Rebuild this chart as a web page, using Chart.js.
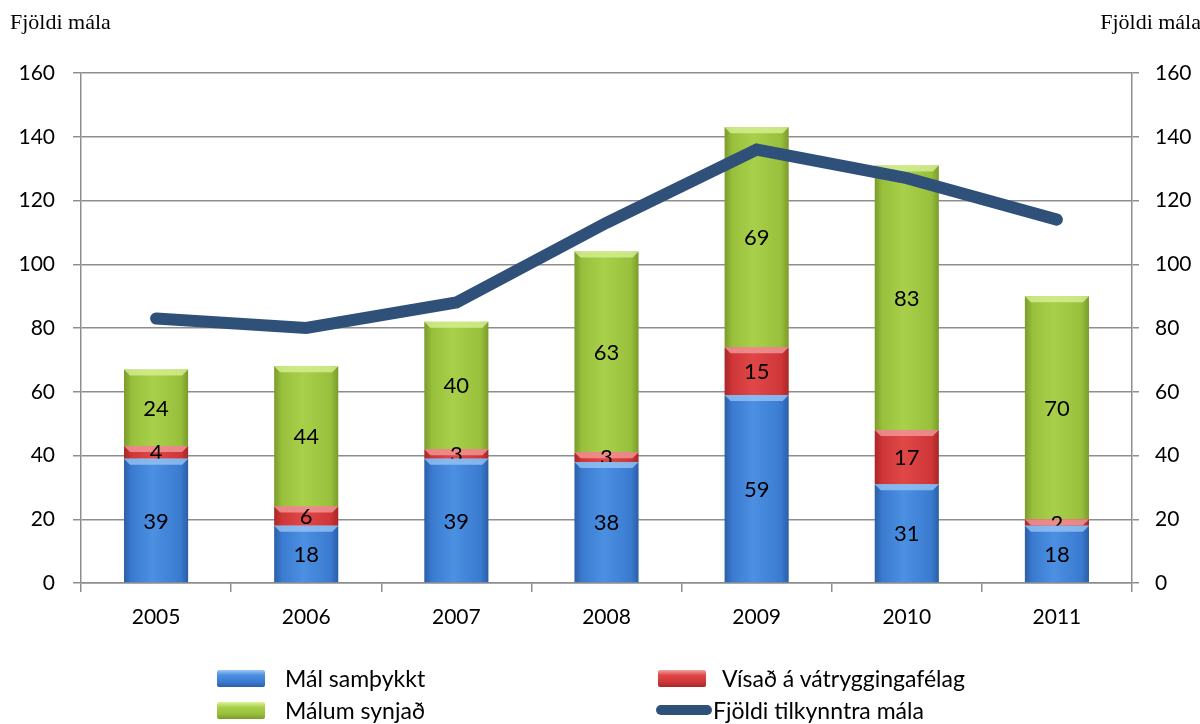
<!DOCTYPE html>
<html lang="is">
<head>
<meta charset="utf-8">
<title>Fjöldi mála 2005–2011</title>
<script src="https://cdn.jsdelivr.net/npm/chart.js@4/dist/chart.umd.min.js"></script>
<style>
  html, body { margin: 0; padding: 0; background: #fff; }
  #wrap { position: relative; width: 1200px; height: 724px; }
  .axis-title { position: absolute; top: 9px; font: 22px "Liberation Serif", serif; color: #000; }
  .legend-item { position: absolute; display: flex; align-items: center; font: 23px Lato, sans-serif; color: #000; }
  .swatch { width: 48px; height: 17px; border-radius: 2px; }
  .swatch.line { width: 56px; height: 10px; border-radius: 5px; }
</style>
</head>
<body>
<div id="wrap">
  <canvas id="malChart" width="1200" height="724"></canvas>
  <div class="axis-title" style="left:10px">Fjöldi mála</div>
  <div class="axis-title" style="right:-1px">Fjöldi mála</div>
  <div id="legend"></div>
</div>
<script>
const years = ['2005', '2006', '2007', '2008', '2009', '2010', '2011'];
const samthykkt = [39, 18, 39, 38, 59, 31, 18];
const visad = [4, 6, 3, 3, 15, 17, 2];
const synjad = [24, 44, 40, 63, 69, 83, 70];
const tilkynnt = [83, 80, 88, 113, 136, 127, 114];
const yTicks = [0, 20, 40, 60, 80, 100, 120, 140, 160];

const BAR_PCT = 0.427;
const gridGray = '#8e8e8e';
const tickFont = { family: 'Lato', size: 21 };

// edge / middle / light shades for each bar series
const blue = ['#2b5ea6', '#3a7bd0', '#4c90e2', '#9cc8f5'];
const red = ['#a82628', '#cf3637', '#e04848', '#f3a2a0'];
const green = ['#7b9b2b', '#98c03c', '#a9d04a', '#dbf39a'];

function barFill(c) {
    return (ctx) => {
        const chart = ctx.chart;
        const xs = chart.scales.x;
        if (!chart.chartArea || !xs) return c[1];
        const cx = xs.getPixelForValue(ctx.dataIndex);
        const half = (xs.width / years.length) * BAR_PCT / 2;
        const g = chart.ctx.createLinearGradient(cx - half, 0, cx + half, 0);
        g.addColorStop(0, c[0]);
        g.addColorStop(0.12, c[1]);
        g.addColorStop(0.45, c[2]);
        g.addColorStop(0.88, c[1]);
        g.addColorStop(1, c[0]);
        return g;
    };
}

// light bevel on top of each segment and the value in its middle
const barDecor = {
    id: 'barDecor',
    afterDatasetDraw(chart, args) {
        const ds = chart.data.datasets[args.index];
        if (ds.type === 'line') return;
        const ctx = chart.ctx;
        ctx.save();
        args.meta.data.forEach((el, i) => {
            const w = el.width;
            const left = el.x - w / 2;
            const top = el.y;
            ctx.fillStyle = ds.bevel;
            ctx.globalAlpha = 0.75;
            ctx.beginPath();
            ctx.moveTo(left, top);
            ctx.lineTo(left + w, top);
            ctx.lineTo(left + w - 6, top + 6);
            ctx.lineTo(left + 6, top + 6);
            ctx.closePath();
            ctx.fill();
            ctx.globalAlpha = 1;
            ctx.fillStyle = '#000';
            ctx.font = '22px Lato';
            ctx.textAlign = 'center';
            ctx.textBaseline = 'middle';
            ctx.fillText(String(ds.data[i]), el.x, (el.y + el.base) / 2 + 1);
        });
        ctx.restore();
    }
};

const chart = new Chart(document.getElementById('malChart').getContext('2d'), {
    data: {
        labels: years,
        datasets: [
            {
                type: 'line',
                label: 'Fjöldi tilkynntra mála',
                data: tilkynnt,
                yAxisID: 'y1',
                borderColor: '#2f5179',
                borderWidth: 12,
                borderCapStyle: 'round',
                borderJoinStyle: 'miter',
                pointRadius: 0,
                tension: 0,
                order: 0
            },
            {
                type: 'bar',
                label: 'Mál samþykkt',
                data: samthykkt,
                backgroundColor: barFill(blue),
                bevel: blue[3],
                barPercentage: BAR_PCT,
                categoryPercentage: 1,
                order: 1
            },
            {
                type: 'bar',
                label: 'Vísað á vátryggingafélag',
                data: visad,
                backgroundColor: barFill(red),
                bevel: red[3],
                barPercentage: BAR_PCT,
                categoryPercentage: 1,
                order: 1
            },
            {
                type: 'bar',
                label: 'Málum synjað',
                data: synjad,
                backgroundColor: barFill(green),
                bevel: green[3],
                barPercentage: BAR_PCT,
                categoryPercentage: 1,
                order: 1
            }
        ]
    },
    options: {
        responsive: false,
        animation: false,
        layout: { padding: { top: 73, left: 0, right: 0, bottom: 0 } },
        plugins: { legend: { display: false }, tooltip: { enabled: false } },
        scales: {
            x: {
                stacked: true,
                offset: true,
                grid: { offset: true, drawOnChartArea: false, color: gridGray, lineWidth: 1.5, tickLength: 9 },
                border: { color: gridGray, width: 1.5 },
                ticks: { color: '#000', font: tickFont, padding: 13 },
                afterFit(s) { s.height = 141; }
            },
            y: {
                position: 'left',
                stacked: true,
                min: 0,
                max: 160,
                afterBuildTicks(s) { s.ticks = yTicks.map(v => ({ value: v })); },
                grid: { color: gridGray, lineWidth: 1.5, tickLength: 8 },
                border: { color: gridGray, width: 1.5 },
                ticks: { color: '#000', font: tickFont, padding: 18 },
                afterFit(s) { s.width = 81; }
            },
            y1: {
                position: 'right',
                min: 0,
                max: 160,
                afterBuildTicks(s) { s.ticks = yTicks.map(v => ({ value: v })); },
                grid: { drawOnChartArea: false, color: gridGray, lineWidth: 1.5, tickLength: 7 },
                border: { color: gridGray, width: 1.5 },
                ticks: { color: '#000', font: tickFont, padding: 16 },
                afterFit(s) { s.width = 68; }
            }
        }
    },
    plugins: [barDecor]
});

// legend in two columns under the chart: [left, top, colours, gap before text]
const legendSpots = {
    'Mál samþykkt': [217, 664, blue, 20],
    'Vísað á vátryggingafélag': [658, 664, red, 16],
    'Málum synjað': [217, 696, green, 20],
    'Fjöldi tilkynntra mála': [656, 696, null, 1]
};
const legendBox = document.getElementById('legend');
chart.data.datasets.forEach(ds => {
    const [left, top, c, gap] = legendSpots[ds.label];
    const item = document.createElement('div');
    item.className = 'legend-item';
    item.style.left = left + 'px';
    item.style.top = top + 'px';
    const sw = document.createElement('span');
    sw.style.marginRight = gap + 'px';
    if (c) {
        sw.className = 'swatch';
        sw.style.background = `linear-gradient(180deg, ${c[3]} 0%, ${c[2]} 30%, ${c[1]} 70%, ${c[0]} 100%)`;
    } else {
        sw.className = 'swatch line';
        sw.style.background = ds.borderColor;
    }
    item.appendChild(sw);
    item.appendChild(document.createTextNode(ds.label));
    legendBox.appendChild(item);
});
</script>
</body>
</html>
